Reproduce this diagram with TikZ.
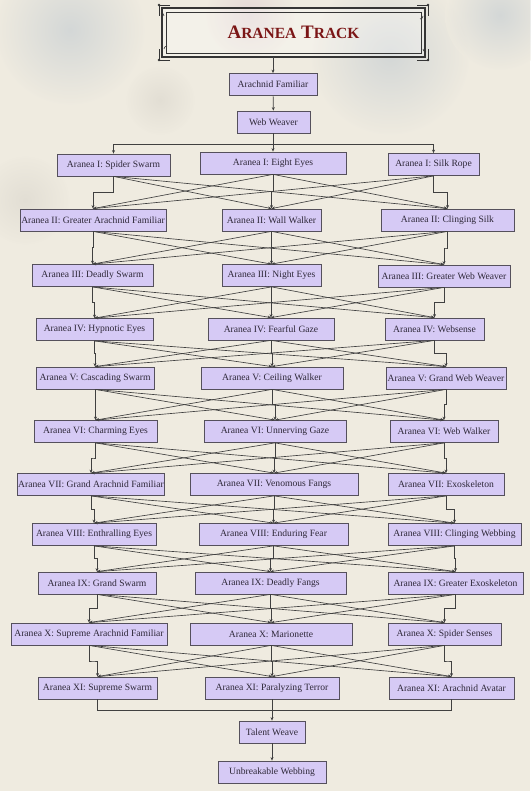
\documentclass[tikz,border=0pt]{standalone}
\usepackage{fontspec}
\setmainfont{Liberation Serif}
\usetikzlibrary{arrows.meta,calc}
\definecolor{bg}{HTML}{EFEBE0}
\definecolor{nodefill}{HTML}{D6CAF5}
\definecolor{nodeline}{HTML}{55505C}
\definecolor{nodetext}{HTML}{2E2838}
\definecolor{linecol}{HTML}{404040}
\definecolor{titlered}{HTML}{7B1616}
\definecolor{frame}{HTML}{353535}
\definecolor{stainblue}{HTML}{B9C4CE}
\definecolor{stainpink}{HTML}{DCC6CF}
\definecolor{staingrey}{HTML}{D6D2C9}
\newcommand\mynode[5]{\node[tnode,minimum width=#4pt] (#1) at (#2,#3) {#5};}
\begin{document}
\begin{tikzpicture}[x=1pt,y=-1pt,
  tnode/.style={draw=nodeline,fill=nodefill,line width=0.75pt,minimum height=22pt,
    inner xsep=1pt,inner ysep=0pt,text=nodetext,font=\fontsize{9.6}{11}\selectfont},
  conn/.style={draw=linecol,line width=0.65pt,-{Stealth[length=3.5pt,width=3pt]}},
  plain/.style={draw=linecol,line width=0.65pt}]
\useasboundingbox (0,0) rectangle (530,791);
\fill[bg] (0,0) rectangle (530,791);
% watercolour stains
\begin{scope}[opacity=0.5]
\shade[inner color=stainblue,outer color=bg] (70,30) circle (75);
\shade[inner color=stainblue,outer color=bg] (390,55) circle (80);
\shade[inner color=stainblue,outer color=bg] (500,15) circle (55);
\shade[inner color=stainpink,outer color=bg] (250,15) circle (45);
\shade[inner color=staingrey,outer color=bg] (25,200) circle (45);
\shade[inner color=staingrey,outer color=bg] (160,100) circle (35);
\end{scope}
% title
\node[fill=white,fill opacity=0.3,text opacity=1,minimum width=263pt,minimum height=49pt,inner sep=0pt] (title) at (293.5,32.5)
  {\textcolor{titlered}{\fontsize{19}{19}\selectfont\bfseries A{\fontsize{15.5}{16}\selectfont RANEA} T{\fontsize{15.5}{16}\selectfont RACK}}};
\draw[frame,line width=1.6pt] (162,8) rectangle (425,57);
\draw[frame,line width=0.6pt] (166,12) rectangle (421,53);
\foreach \cx/\cy/\sx/\sy in {162/8/1/1,425/8/-1/1,162/57/1/-1,425/57/-1/-1}{
  \draw[frame,line width=0.7pt] (\cx,\cy) ++(8*\sx,-3*\sy) -- ++(-11*\sx,0) -- ++(0,11*\sy);
  \draw[frame,line width=0.6pt] (\cx,\cy) ++(2*\sx,8*\sy) arc[start angle={90-90*\sy},end angle={90-90*\sy+90*\sx*\sy},radius=3pt];
  \fill[frame] (\cx,\cy) ++(-3*\sx,-3*\sy) circle (1.3pt);
}
% nodes
\mynode{af}{273}{84.5}{88}{Arachnid Familiar}
\mynode{ww}{273.5}{122}{73}{Web Weaver}
\mynode{r1c1}{113.5}{165}{113}{Aranea I: Spider Swarm}
\mynode{r1c2}{273}{163}{146}{Aranea I: Eight Eyes}
\mynode{r1c3}{433.5}{164.5}{91}{Aranea I: Silk Rope}
\mynode{r2c1}{93}{220}{146}{Aranea II: Greater Arachnid Familiar}
\mynode{r2c2}{271.5}{220}{99}{Aranea II: Wall Walker}
\mynode{r2c3}{447.5}{220}{133}{Aranea II: Clinging Silk}
\mynode{r3c1}{92.5}{275.5}{121}{Aranea III: Deadly Swarm}
\mynode{r3c2}{271.5}{275.5}{99}{Aranea III: Night Eyes}
\mynode{r3c3}{444}{276}{132}{Aranea III: Greater Web Weaver}
\mynode{r4c1}{94.5}{329.5}{117}{Aranea IV: Hypnotic Eyes}
\mynode{r4c2}{271}{329}{126}{Aranea IV: Fearful Gaze}
\mynode{r4c3}{434.5}{329}{99}{Aranea IV: Websense}
\mynode{r5c1}{95}{378}{118}{Aranea V: Cascading Swarm}
\mynode{r5c2}{272}{378}{142}{Aranea V: Ceiling Walker}
\mynode{r5c3}{446}{378}{120}{Aranea V: Grand Web Weaver}
\mynode{r6c1}{95.5}{431.5}{123}{Aranea VI: Charming Eyes}
\mynode{r6c2}{275}{431.5}{142}{Aranea VI: Unnerving Gaze}
\mynode{r6c3}{444}{431.5}{108}{Aranea VI: Web Walker}
\mynode{r7c1}{91}{484.5}{146}{Aranea VII: Grand Arachnid Familiar}
\mynode{r7c2}{274}{484.5}{168}{Aranea VII: Venomous Fangs}
\mynode{r7c3}{446}{484.5}{116}{Aranea VII: Exoskeleton}
\mynode{r8c1}{94}{534.5}{124}{Aranea VIII: Enthralling Eyes}
\mynode{r8c2}{273.5}{534.5}{149}{Aranea VIII: Enduring Fear}
\mynode{r8c3}{454.5}{534.5}{133}{Aranea VIII: Clinging Webbing}
\mynode{r9c1}{97}{583}{118}{Aranea IX: Grand Swarm}
\mynode{r9c2}{270.5}{583}{151}{Aranea IX: Deadly Fangs}
\mynode{r9c3}{455.5}{583}{135}{Aranea IX: Greater Exoskeleton}
\mynode{r10c1}{89}{634}{156}{Aranea X: Supreme Arachnid Familiar}
\mynode{r10c2}{271}{634}{162}{Aranea X: Marionette}
\mynode{r10c3}{444.5}{634}{113}{Aranea X: Spider Senses}
\mynode{r11c1}{97.5}{688}{119}{Aranea XI: Supreme Swarm}
\mynode{r11c2}{272}{688}{134}{Aranea XI: Paralyzing Terror}
\mynode{r11c3}{451.5}{688}{125}{Aranea XI: Arachnid Avatar}
\mynode{tw}{272}{732}{66}{Talent Weave}
\mynode{ub}{272}{772}{108}{Unbreakable Webbing}
% connectors
\draw[conn] (title.south -| af.north) -- (af.north);
\draw[conn] (af) -- (ww);
\coordinate (wbus) at (273.5,144);
\draw[plain] (ww.south) -- (wbus);
\draw[conn] (wbus) -| (r1c1.north);
\draw[conn] (wbus) -| (r1c3.north);
\draw[conn] (wbus) -| (r1c2.north);
\foreach \ri [evaluate=\ri as \si using int(\ri+1)] in {1,...,10}{
  \foreach \j in {1,2,3}{
    \foreach \k in {1,2,3}{
      \ifnum\j=\k
        \draw[conn] (r\ri c\j.south) |- ($(r\ri c\j.south)!0.5!(r\si c\k.north)$) -| (r\si c\k.north);
      \else
        \draw[conn] (r\ri c\j.south) -- (r\si c\k.north);
      \fi
    }
  }
}
\coordinate (bbus) at (272,710);
\draw[plain] (r11c1.south) |- (bbus);
\draw[plain] (r11c3.south) |- (bbus);
\draw[conn] (r11c2.south) -- (tw.north);
\draw[conn] (tw) -- (ub);
\end{tikzpicture}
\end{document}
